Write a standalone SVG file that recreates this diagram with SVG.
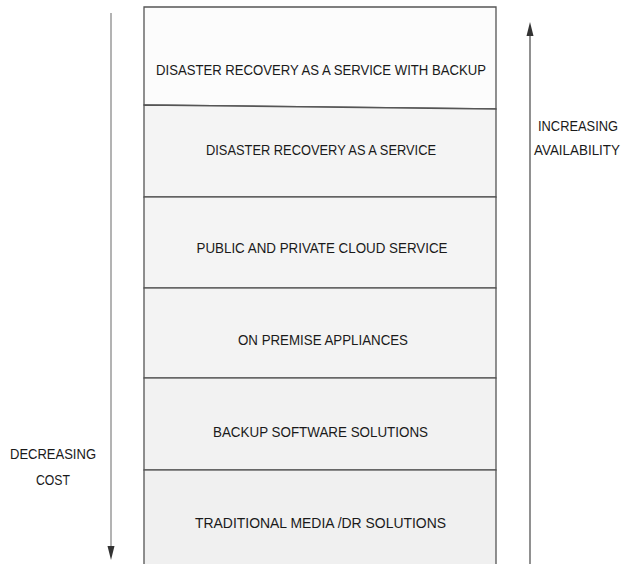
<svg xmlns="http://www.w3.org/2000/svg" width="625" height="564" viewBox="0 0 625 564">
<style>
.box{stroke:#555;stroke-width:1.3}
.t{font-family:"Liberation Sans",Arial,sans-serif;font-size:15.5px;fill:#1a1a1a;text-anchor:middle}
.s{font-size:14px}
.ln{fill:none;stroke:#6a6a6a;stroke-width:1.3}
</style>
<rect width="625" height="564" fill="#fff"/>
<g id="connectors">
<line class="ln" x1="111" y1="13" x2="111" y2="548" style="stroke:#8a8a8a"/>
<path d="M107.5,546 L114.5,546 L111,560 Z" fill="#333"/>
<line class="ln" x1="530" y1="564" x2="530" y2="34" style="stroke:#555"/>
<path d="M526.5,36 L533.5,36 L530,22 Z" fill="#333"/>
</g>
<g id="node-draas-backup">
<polygon class="box" points="144,7 496,7 496,109 144,105" fill="#fcfcfc"/>
<text class="t" x="321" y="75" textLength="330" lengthAdjust="spacingAndGlyphs">DISASTER RECOVERY AS A SERVICE WITH BACKUP</text>
</g>
<g id="node-draas">
<polygon class="box" points="144,105 496,109 496,197 144,197" fill="#f4f4f4"/>
<text class="t" x="321" y="155" textLength="230" lengthAdjust="spacingAndGlyphs">DISASTER RECOVERY AS A SERVICE</text>
</g>
<g id="node-cloud">
<rect class="box" x="144" y="197" width="352" height="91" fill="#f4f4f4"/>
<text class="t" x="322" y="253" textLength="251" lengthAdjust="spacingAndGlyphs">PUBLIC AND PRIVATE CLOUD SERVICE</text>
</g>
<g id="node-appliances">
<rect class="box" x="144" y="288" width="352" height="90" fill="#f3f3f3"/>
<text class="t" x="323" y="345" textLength="170" lengthAdjust="spacingAndGlyphs">ON PREMISE APPLIANCES</text>
</g>
<g id="node-backup-software">
<rect class="box" x="144" y="378" width="352" height="92" fill="#f2f2f2"/>
<text class="t" x="320.5" y="437" textLength="215" lengthAdjust="spacingAndGlyphs">BACKUP SOFTWARE SOLUTIONS</text>
</g>
<g id="node-traditional">
<rect class="box" x="144" y="470" width="352" height="100" fill="#f0f0f0"/>
<text class="t" x="320.5" y="528" textLength="251" lengthAdjust="spacingAndGlyphs">TRADITIONAL MEDIA /DR SOLUTIONS</text>
</g>
<g id="label-cost">
<text class="t" x="53" y="459" textLength="86" lengthAdjust="spacingAndGlyphs">DECREASING</text>
<text class="t" x="53" y="485" textLength="34" lengthAdjust="spacingAndGlyphs">COST</text>
</g>
<g id="label-availability">
<text class="t s" x="578" y="131" textLength="80" lengthAdjust="spacingAndGlyphs">INCREASING</text>
<text class="t s" x="577" y="155" textLength="86" lengthAdjust="spacingAndGlyphs">AVAILABILITY</text>
</g>
</svg>
